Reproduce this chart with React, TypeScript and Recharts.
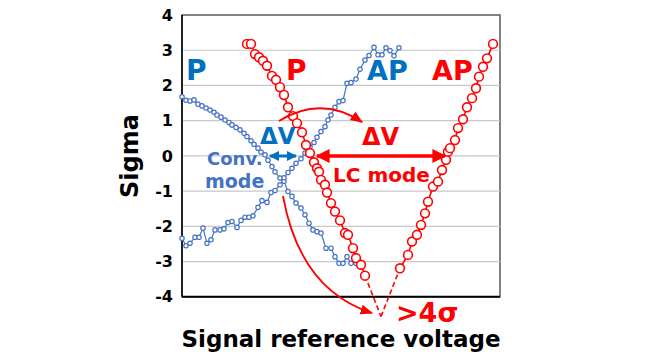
import React from "react";
import {
  Line,
  LineChart,
  ReferenceArea,
  ReferenceLine,
  XAxis,
  YAxis,
} from "recharts";

// signal reference voltage (arbitrary units) and sigma for each curve
const convPV = [0, 4, 8, 12, 16, 20, 24, 28, 32, 35, 39, 43, 47, 50, 54, 58, 62, 65, 69, 72, 76, 79, 83, 86, 90, 93, 98, 102, 106, 110, 114, 119, 123, 127, 131, 135, 139, 144, 149, 153, 157, 161, 165, 169, 174];
const convPS = [1.68, 1.58, 1.56, 1.59, 1.47, 1.42, 1.36, 1.3, 1.24, 1.16, 1.1, 1.02, 0.95, 0.88, 0.81, 0.74, 0.64, 0.55, 0.43, 0.33, 0.22, 0.11, 0.03, -0.12, -0.3, -0.45, -0.63, -0.72, -1.01, -1.15, -1.34, -1.48, -1.67, -1.91, -2.1, -2.15, -2.19, -2.62, -2.62, -2.86, -3.05, -3.05, -2.86, -3.05, -3.05];

const convAPV = [0, 4, 8, 13, 17, 21, 25, 29, 33, 38, 42, 46, 50, 55, 59, 63, 67, 71, 76, 80, 85, 89, 93, 98, 102, 106, 110, 114, 119, 123, 128, 132, 135, 139, 143, 146, 149, 153, 157, 161, 165, 169, 174, 178, 183, 187, 192, 196, 200, 204, 208, 212, 217];
const convAPS = [-2.34, -2.55, -2.48, -2.31, -2.31, -2.05, -2.48, -2.38, -2.1, -2.1, -2.07, -1.89, -1.86, -2.03, -1.83, -1.74, -1.74, -1.7, -1.46, -1.27, -1.32, -1.04, -0.98, -0.82, -0.62, -0.47, -0.35, -0.21, -0.08, 0.08, 0.25, 0.38, 0.53, 0.69, 0.83, 1.02, 1.16, 1.38, 1.54, 1.57, 2.06, 2.08, 2.18, 2.46, 2.72, 2.85, 3.08, 2.87, 2.87, 3.07, 2.99, 2.84, 3.07];

const lcPV = [65, 69, 73, 77, 81, 85, 90, 94, 98, 102, 106, 111, 115, 120, 124, 128, 132, 135, 137, 139, 143, 145, 149, 153, 158, 163, 166, 171, 174, 179, 183];
const lcPS = [3.18, 3.18, 2.89, 2.8, 2.7, 2.56, 2.27, 2.16, 1.95, 1.73, 1.38, 1.13, 0.93, 0.67, 0.31, 0.08, -0.18, -0.35, -0.45, -0.68, -0.82, -1.04, -1.34, -1.58, -1.83, -2.19, -2.24, -2.62, -2.9, -3.09, -3.4];

const lcAPV = [218, 226, 230, 235, 239, 243, 246, 251, 256, 260, 264, 266, 268, 273, 276, 281, 285, 290, 294, 297, 301, 305, 311];
const lcAPS = [-3.19, -2.81, -2.43, -2.24, -1.96, -1.63, -1.3, -0.87, -0.73, -0.4, -0.11, 0.12, 0.22, 0.45, 0.79, 1.04, 1.38, 1.64, 1.92, 2.25, 2.53, 2.77, 3.18];

// extrapolated crossing below -4 sigma
const extrapV = [183, 199, 218];
const extrapS = [-3.4, -4.56, -3.19];

const sigmaTicks = [-4, -3, -2, -1, 0, 1, 2, 3, 4];
const gridValues = [-3, -2, -1, 0, 1, 2, 3];

const zip = (v: number[], s: number[]) => v.map((x, i) => ({ v: x, s: s[i] }));

const convP = zip(convPV, convPS);
const convAP = zip(convAPV, convAPS);
const lcP = zip(lcPV, lcPS);
const lcAP = zip(lcAPV, lcAPS);
const extrapLeft = zip(extrapV.slice(0, 2), extrapS.slice(0, 2));
const extrapRight = zip(extrapV.slice(1), extrapS.slice(1));

const RED = "#FF0000";
const BLUE = "#0070C0";
const SERIES_BLUE = "#4472C4";
const FONT = "'DejaVu Sans', Verdana, sans-serif";

function Overlay() {
  return (
    <svg
      width={660}
      height={356}
      style={{ position: "absolute", left: 0, top: 0, pointerEvents: "none" }}
      fontFamily={FONT}
      fontWeight="bold"
    >
      <defs>
        <marker id="redHead" viewBox="0 0 10 10" refX="9" refY="5" markerWidth="4" markerHeight="4" orient="auto-start-reverse">
          <path d="M0,0 L10,5 L0,10 z" fill={RED} />
        </marker>
        <marker id="blueHead" viewBox="0 0 10 10" refX="9" refY="5" markerWidth="3.5" markerHeight="3.5" orient="auto-start-reverse">
          <path d="M0,0 L10,5 L0,10 z" fill={BLUE} />
        </marker>
        <marker id="thinRed" viewBox="0 0 10 10" refX="9" refY="5" markerWidth="7" markerHeight="7" orient="auto">
          <path d="M0,1 L10,5 L0,9 z" fill={RED} />
        </marker>
      </defs>

      <text transform="translate(138,156) rotate(-90)" x={0} y={0} fontSize={24} textAnchor="middle" fill="#000">
        Sigma
      </text>
      <text x={341} y={347} fontSize={23} textAnchor="middle" fill="#000">
        Signal reference voltage
      </text>

      <text x={186} y={80} fontSize={28} fill={BLUE}>P</text>
      <text x={286} y={80} fontSize={28} fill={RED}>P</text>
      <text x={367} y={80} fontSize={27} fill={BLUE}>AP</text>
      <text x={432} y={80} fontSize={27} fill={RED}>AP</text>

      <text x={260} y={144} fontSize={23} fill={BLUE}>ΔV</text>
      <text x={362} y={145} fontSize={24} fill={RED}>ΔV</text>

      <line x1={270} y1={156} x2={296} y2={156} stroke={BLUE} strokeWidth={3} markerStart="url(#blueHead)" markerEnd="url(#blueHead)" />
      <line x1={317} y1={156} x2={445} y2={156} stroke={RED} strokeWidth={3.5} markerStart="url(#redHead)" markerEnd="url(#redHead)" />

      <text x={207} y={165} fontSize={18} fill={SERIES_BLUE}>Conv.</text>
      <text x={205} y={188} fontSize={19} fill={SERIES_BLUE}>mode</text>
      <text x={333} y={182} fontSize={20} fill={RED}>LC mode</text>

      <path d="M279 121 Q321 95 362 122" fill="none" stroke={RED} strokeWidth={1.8} markerEnd="url(#thinRed)" />
      <path d="M283 196 Q300 290 372 313" fill="none" stroke={RED} strokeWidth={1.8} markerEnd="url(#thinRed)" />

      <text x={396} y={322} fontSize={27} fill={RED}>&gt;4σ</text>
    </svg>
  );
}

export default function App() {
  return (
    <div style={{ position: "absolute", left: 0, top: 0, width: 660, height: 356, background: "#fff" }}>
      <LineChart width={660} height={356} margin={{ top: 15, right: 160, bottom: 31, left: 0 }}>
        <XAxis type="number" dataKey="v" domain={[0, 318]} hide />
        <YAxis
          type="number"
          domain={[-4.8, 4]}
          ticks={sigmaTicks}
          width={182}
          axisLine={false}
          tickLine={false}
          tickMargin={3}
          tick={{ fill: "#000", fontSize: 16, fontWeight: "bold", fontFamily: FONT }}
        />
        {gridValues.map((g) => (
          <ReferenceLine key={g} y={g} stroke="#c8c8c8" strokeWidth={1.2} />
        ))}
        <ReferenceArea x1={0} x2={318} y1={-4} y2={4} fill="none" stroke="#595959" strokeWidth={1.5} />
        <ReferenceLine y={-4} stroke="#000" strokeWidth={2} />
        <ReferenceLine segment={[{ x: 0, y: -4 }, { x: 0, y: 4 }]} stroke="#000" strokeWidth={1.5} />

        <Line data={convP} dataKey="s" stroke={SERIES_BLUE} strokeWidth={1.2} isAnimationActive={false}
          dot={{ r: 2.2, fill: "#fff", stroke: SERIES_BLUE, strokeWidth: 1.2 }} />
        <Line data={convAP} dataKey="s" stroke={SERIES_BLUE} strokeWidth={1.2} isAnimationActive={false}
          dot={{ r: 2.2, fill: "#fff", stroke: SERIES_BLUE, strokeWidth: 1.2 }} />
        <Line data={extrapLeft} dataKey="s" stroke={RED} strokeWidth={1.6} strokeDasharray="5 3" dot={false} isAnimationActive={false} />
        <Line data={extrapRight} dataKey="s" stroke={RED} strokeWidth={1.6} strokeDasharray="5 3" dot={false} isAnimationActive={false} />
        <Line data={lcP} dataKey="s" stroke={RED} strokeWidth={1.6} isAnimationActive={false}
          dot={{ r: 4.4, fill: "#fff", stroke: RED, strokeWidth: 1.6 }} />
        <Line data={lcAP} dataKey="s" stroke={RED} strokeWidth={1.6} isAnimationActive={false}
          dot={{ r: 4.4, fill: "#fff", stroke: RED, strokeWidth: 1.6 }} />
      </LineChart>
      <Overlay />
    </div>
  );
}
